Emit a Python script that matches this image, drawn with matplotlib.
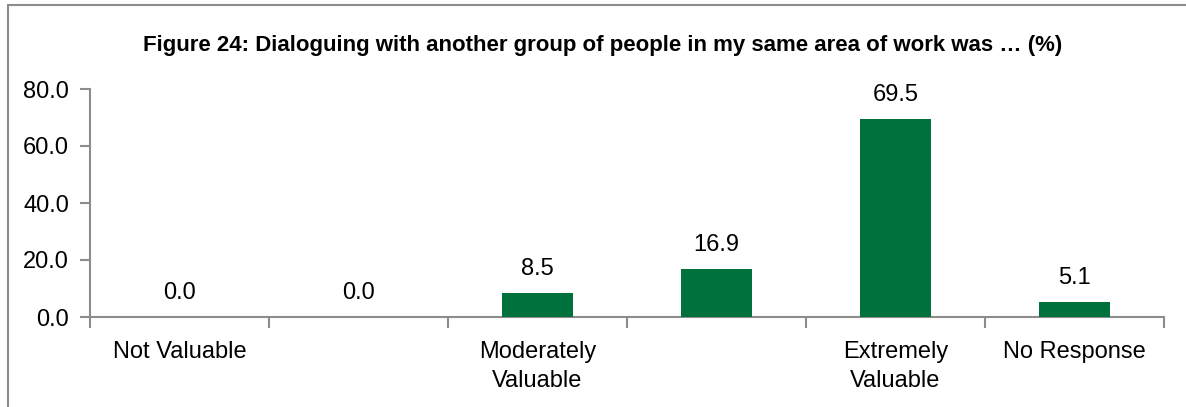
import matplotlib
matplotlib.use("Agg")
import matplotlib.pyplot as plt
from matplotlib.patches import Rectangle
from matplotlib import font_manager

# survey responses (%)
categories = ["Not Valuable", "", "Moderately\nValuable", "", "Extremely\nValuable", "No Response"]
values = [0.0, 0.0, 8.5, 16.9, 69.5, 5.1]
yticks = [0, 20, 40, 60, 80]
title = "Figure 24: Dialoguing with another group of people in my same area of work was \u2026 (%)"

installed = {f.name for f in font_manager.fontManager.ttflist}
narrow = "Liberation Sans Narrow" if "Liberation Sans Narrow" in installed else "Liberation Sans"
plt.rcParams["font.family"] = [narrow, "DejaVu Sans"]

bar_color = "#00703C"
axis_color = "#8C8C8C"

fig = plt.figure(figsize=(11.86, 4.07), dpi=100)
ax = fig.add_axes([90 / 1186, 1 - 317 / 407, (1164 - 90) / 1186, (317 - 89) / 407])

x = list(range(len(values)))
bars = ax.bar(x, values, width=0.4, color=bar_color, zorder=3)

for xi, v in zip(x, values):
    ax.annotate(f"{v:.1f}", (xi, v), xytext=(0, 9.5), textcoords="offset points",
                ha="center", va="bottom", fontsize=17, color="black")

ax.set_xlim(-0.5, len(values) - 0.5)
ax.set_ylim(0, 80)
ax.set_yticks(yticks)
ax.set_yticklabels([f"{t:.1f}" for t in yticks], fontsize=17)

# category labels centred, tick marks between categories
ax.set_xticks(x)
ax.set_xticklabels(categories, fontsize=17, linespacing=1.45)
ax.tick_params(axis="x", length=0, pad=17)
ax.set_xticks([i - 0.5 for i in range(len(values) + 1)], minor=True)
ax.tick_params(axis="x", which="minor", length=8, width=1.5, color=axis_color, direction="out")
ax.tick_params(axis="y", length=7, width=1.5, color=axis_color, direction="out", pad=8)

for side in ["top", "right"]:
    ax.spines[side].set_visible(False)
for side in ["left", "bottom"]:
    ax.spines[side].set_color(axis_color)
    ax.spines[side].set_linewidth(1.5)

fig.text(603 / 1186, 1 - 45 / 407, title, ha="center", va="center",
         fontsize=16, fontweight="bold")

# chart frame, running off the right and bottom edges
fig.patches.append(Rectangle((8 / 1186, -0.5), 2, 1.5 - 5 / 407, transform=fig.transFigure,
                             fill=False, edgecolor=axis_color, linewidth=1.5))

fig.savefig("out.png", dpi=100)
